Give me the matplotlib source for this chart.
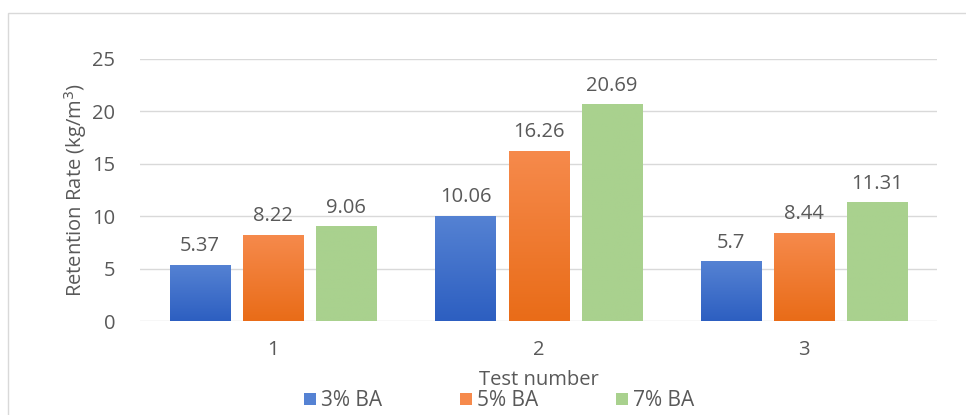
import matplotlib.pyplot as plt
import numpy as np
from matplotlib.colors import LinearSegmentedColormap
from matplotlib.patches import Rectangle

# Datos
tests = ['1', '2', '3']
series = ['3% BA', '5% BA', '7% BA']
ba3 = [5.37, 10.06, 5.7]
ba5 = [8.22, 16.26, 8.44]
ba7 = [9.06, 20.69, 11.31]
valores = [ba3, ba5, ba7]
y_ticks = [0, 5, 10, 15, 20, 25]

# colores (arriba, abajo) para el degradado
colores = [('#5582d3', '#2d5fc1'), ('#f68a4c', '#e96c18'), ('#a9d18e', '#a9d18e')]
gris = '#595959'

plt.rcParams['font.family'] = ['Open Sans', 'DejaVu Sans']

fig = plt.figure(figsize=(9.66, 4.15), dpi=100)
ax = fig.add_axes([0.145, 0.2265, 0.825, 0.6315])

# marco exterior
fig.patches.append(Rectangle((8 / 966, -0.1), 1.2, 1 - 13 / 415 + 0.1,
                             transform=fig.transFigure, fill=False,
                             edgecolor='#d9d9d9', linewidth=1))

x = np.arange(len(tests))
ancho = 0.226
paso = 0.275
grad = np.linspace(0, 1, 100).reshape(-1, 1)

for i, (nombre, vals) in enumerate(zip(series, valores)):
    pos = x + (i - 1) * paso
    bars = ax.bar(pos, vals, ancho, color=colores[i][0], label=nombre, zorder=3)
    cmap = LinearSegmentedColormap.from_list('g%d' % i, [colores[i][1], colores[i][0]])
    for b, v in zip(bars, vals):
        x0 = b.get_x()
        im = ax.imshow(grad, cmap=cmap, extent=[x0, x0 + ancho, 0, v],
                       origin='lower', aspect='auto', zorder=4)
        im.set_clip_path(b)
        ax.annotate(str(v), (b.get_x() + ancho / 2, v), xytext=(0, 6),
                    textcoords='offset points', ha='center', va='bottom',
                    fontsize=14.5, color=gris)

ax.set_xlim(-0.5, 2.5)
ax.set_ylim(0, 25)
ax.set_yticks(y_ticks)
ax.set_xticks(x)
ax.set_xticklabels(tests)
ax.tick_params(length=0, labelsize=14.5, labelcolor=gris)
ax.tick_params(axis='x', pad=14)
ax.tick_params(axis='y', pad=18)
ax.grid(axis='y', color='#d9d9d9', linewidth=1, zorder=0)
for s in ax.spines.values():
    s.set_visible(False)

ax.set_xlabel('Test number', fontsize=14.5, color=gris, labelpad=7)
ax.set_ylabel('Retention Rate (kg/m$^3$)', fontsize=14.5, color=gris, labelpad=2)

fig.legend(loc='center', bbox_to_anchor=(0.517, 0.034), ncol=3, frameon=False,
           fontsize=15, labelcolor=gris, handlelength=0.55, handleheight=0.55,
           handletextpad=0.25, columnspacing=3.75, borderpad=0)

plt.savefig('out.png', dpi=100)
